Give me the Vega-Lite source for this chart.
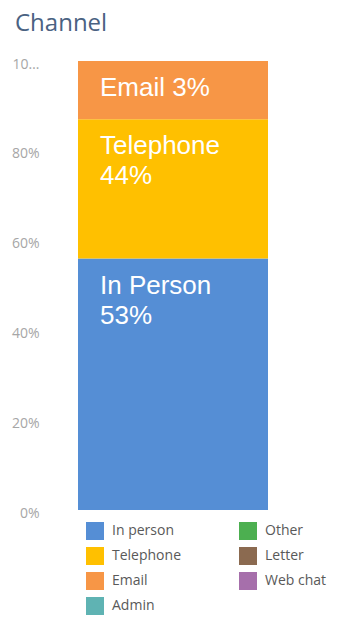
{
  "$schema": "https://vega.github.io/schema/vega-lite/v6.json",
  "width": 190,
  "height": 449,
  "autosize": {"type": "none"},
  "padding": {"left": 78, "top": 61, "right": 70, "bottom": 111},
  "background": "white",
  "config": {"view": {"stroke": null}},
  "title": {
    "text": "Channel",
    "anchor": "start",
    "frame": "group",
    "dx": -63,
    "offset": 2,
    "baseline": "alphabetic",
    "font": "Open Sans",
    "fontSize": 24,
    "fontWeight": "normal",
    "color": "#4a6282"
  },
  "data": {
    "values": [
      {"chart": "Channel", "channel": "In person", "share": 56, "order": 1, "label": "In Person\n53%"},
      {"chart": "Channel", "channel": "Telephone", "share": 31, "order": 2, "label": "Telephone\n44%"},
      {"chart": "Channel", "channel": "Email", "share": 13, "order": 3, "label": "Email 3%"}
    ]
  },
  "transform": [
    {"stack": "share", "groupby": [], "sort": [{"field": "order", "order": "ascending"}], "as": ["v0", "v1"]}
  ],
  "layer": [
    {
      "mark": {"type": "bar"},
      "encoding": {
        "x": {"field": "chart", "type": "nominal", "axis": null, "scale": {"paddingInner": 0, "paddingOuter": 0}},
        "y": {
          "field": "v0",
          "type": "quantitative",
          "scale": {"domain": [0, 100], "nice": false},
          "axis": {
            "values": [0, 20, 40, 60, 80, 100],
            "labelExpr": "datum.value + '%'",
            "grid": false,
            "domain": false,
            "ticks": false,
            "title": null,
            "labelPadding": 39,
            "labelLimit": 32,
            "labelFont": "Open Sans",
            "labelFontSize": 14,
            "labelColor": "#a6a6a6",
            "labelOffset": 3
          }
        },
        "y2": {"field": "v1"},
        "color": {
          "field": "channel",
          "type": "nominal",
          "scale": {
            "domain": ["In person", "Other", "Telephone", "Letter", "Email", "Web chat", "Admin"],
            "range": ["#558ed5", "#4caf50", "#ffc000", "#8b6a50", "#f79646", "#a66fab", "#5fb3b3"]
          },
          "legend": {
            "orient": "none",
            "legendX": 8,
            "legendY": 461,
            "title": null,
            "columns": 2,
            "direction": "horizontal",
            "symbolType": "square",
            "symbolSize": 324,
            "symbolStrokeWidth": 0,
            "symbolOpacity": 1,
            "rowPadding": 7,
            "columnPadding": 58,
            "labelFont": "Open Sans",
            "labelFontSize": 14,
            "labelColor": "#595959",
            "labelOffset": 8
          }
        }
      }
    },
    {
      "mark": {
        "type": "text",
        "align": "left",
        "baseline": "alphabetic",
        "dx": 22,
        "dy": 35,
        "font": "Liberation Sans",
        "fontSize": 26,
        "lineHeight": 30,
        "lineBreak": "\n",
        "color": "white"
      },
      "encoding": {
        "x": {"field": "chart", "type": "nominal", "bandPosition": 0},
        "y": {"field": "v1", "type": "quantitative"},
        "text": {"field": "label", "type": "nominal"}
      }
    }
  ]
}
